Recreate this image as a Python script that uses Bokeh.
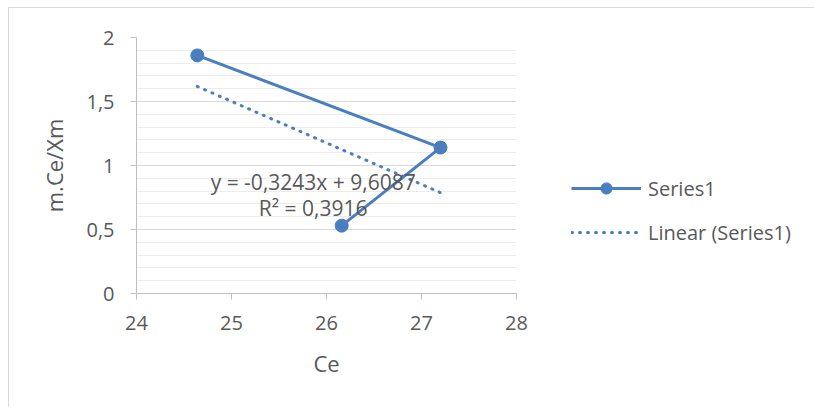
from bokeh.plotting import figure
from bokeh.models import (Range1d, FixedTicker, Legend, LegendItem, Label)
from bokeh.embed import file_html
from bokeh.resources import INLINE

# ---- data ----
ce = [24.64, 27.20, 26.16]
mce_xm = [1.86, 1.14, 0.53]
trend_slope = -0.3243
trend_intercept = 9.6087
equation_text = "y = -0,3243x + 9,6087"
r2_text = "R² = 0,3916"
x_ticks = [24, 25, 26, 27, 28]
y_ticks = [0, 0.5, 1, 1.5, 2]
y_tick_labels = ["0", "0,5", "1", "1,5", "2"]
series_name = "Series1"
trend_name = "Linear (Series1)"

FONT = "Open Sans"
BLUE = "#4a7ebf"
TXT = "#595959"

p = figure(frame_width=380, frame_height=256, output_backend="svg",
           toolbar_location=None,
           x_range=Range1d(24, 28), y_range=Range1d(0, 2),
           min_border_left=127, min_border_right=297, min_border_top=29,
           min_border_bottom=114)
p.styles = {"margin-left": "8px", "margin-top": "7px",
            "border-left": "1px solid #d9d9d9", "border-top": "1px solid #d9d9d9"}
p.outline_line_color = None
p.background_fill_color = "white"

# axes
p.xaxis.ticker = FixedTicker(ticks=x_ticks)
p.yaxis.ticker = FixedTicker(ticks=y_ticks,
                             minor_ticks=[i / 10 for i in range(0, 21)])
p.yaxis.major_label_overrides = {t: l for t, l in zip(y_ticks, y_tick_labels)}
for ax in (p.xaxis[0], p.yaxis[0]):
    ax.axis_line_color = "#bfbfbf"
    ax.axis_line_width = 1
    ax.major_tick_line_color = "#bfbfbf"
    ax.major_tick_in = 0
    ax.major_tick_out = 6
    ax.minor_tick_line_color = None
    ax.major_label_text_font = FONT
    ax.major_label_text_font_size = "20px"
    ax.major_label_text_color = TXT
    ax.axis_label_text_font = FONT
    ax.axis_label_text_font_size = "22px"
    ax.axis_label_text_font_style = "normal"
    ax.axis_label_text_color = TXT
p.xaxis.axis_label = "Ce"
p.yaxis.axis_label = "m.Ce/Xm"
p.xaxis.major_label_standoff = 16
p.yaxis.major_label_standoff = 16
p.xaxis.axis_label_standoff = 15
p.yaxis.axis_label_standoff = 14

# grid
p.xgrid.grid_line_color = None
p.ygrid.grid_line_color = "#d9d9d9"
p.ygrid.minor_grid_line_color = "#ececec"

# series
line_r = p.line(ce, mce_xm, line_color=BLUE, line_width=3)
pts_r = p.scatter(ce, mce_xm, size=13, fill_color=BLUE, line_color=BLUE)

tx = [min(ce), max(ce)]
ty = [trend_slope * v + trend_intercept for v in tx]
trend_r = p.line(tx, ty, line_color=BLUE, line_width=3, line_dash="1 7",
                 line_cap="round")

# equation labels
p.add_layout(Label(x=25.86, y=0.875, text=equation_text, text_font=FONT,
                   text_font_size="21px", text_color=TXT, text_align="center",
                   text_baseline="middle"))
p.add_layout(Label(x=25.86, y=0.665, text=r2_text, text_font=FONT,
                   text_font_size="21px", text_color=TXT, text_align="center",
                   text_baseline="middle"))

legend = Legend(items=[LegendItem(label=series_name, renderers=[line_r, pts_r]),
                       LegendItem(label=trend_name, renderers=[trend_r])],
                location=(55, 47), padding=0, margin=0, spacing=16,
                glyph_width=70, glyph_height=28, label_height=28,
                label_standoff=7, border_line_color=None,
                background_fill_alpha=0,
                label_text_font=FONT, label_text_font_size="20px",
                label_text_color=TXT)
p.add_layout(legend, "right")

open("out.html", "w").write(file_html(p, INLINE))
